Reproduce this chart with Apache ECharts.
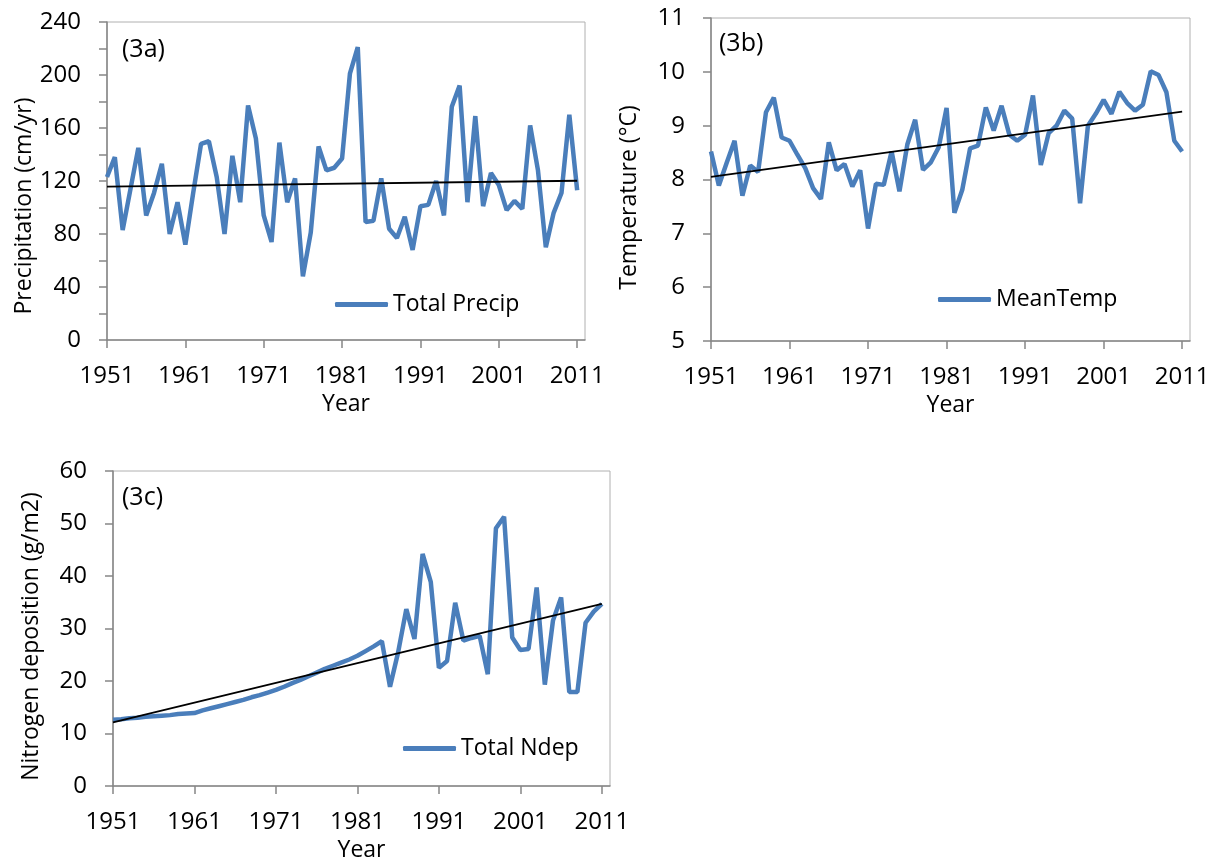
<!DOCTYPE html>
<html>
<head>
<meta charset="utf-8">
<script src="https://cdn.jsdelivr.net/npm/echarts@6/dist/echarts.min.js"></script>
<style>
  html, body { margin: 0; padding: 0; background: #fff; }
  #chart { width: 1220px; height: 863px; }
</style>
</head>
<body>
<div id="chart"></div>
<script>
// years on the x axis (the axis runs one year past the last data point)
const years = ['1951', '1952', '1953', '1954', '1955', '1956', '1957', '1958', '1959', '1960',
  '1961', '1962', '1963', '1964', '1965', '1966', '1967', '1968', '1969', '1970',
  '1971', '1972', '1973', '1974', '1975', '1976', '1977', '1978', '1979', '1980',
  '1981', '1982', '1983', '1984', '1985', '1986', '1987', '1988', '1989', '1990',
  '1991', '1992', '1993', '1994', '1995', '1996', '1997', '1998', '1999', '2000',
  '2001', '2002', '2003', '2004', '2005', '2006', '2007', '2008', '2009', '2010',
  '2011', '2012']

// (3a) total precipitation, cm/yr
const precip = [123, 138, 83, 114, 145, 94, 111, 133, 80, 104,
  72, 111, 148, 150, 123, 80, 139, 104, 177, 152,
  94, 74, 149, 104, 122, 48, 81, 146, 128, 130,
  137, 201, 221, 89, 90, 122, 84, 77, 93, 68,
  101, 102, 120, 94, 176, 192, 104, 169, 101, 126,
  117, 98, 105, 99, 162, 128, 70, 96, 111, 170,
  113]

// (3b) mean temperature, deg C
const meanTemp = [8.52, 7.89, 8.31, 8.72, 7.70, 8.26, 8.14, 9.25, 9.52, 8.78,
  8.72, 8.46, 8.21, 7.84, 7.64, 8.69, 8.17, 8.29, 7.87, 8.17,
  7.09, 7.92, 7.90, 8.52, 7.78, 8.65, 9.11, 8.18, 8.32, 8.60,
  9.33, 7.38, 7.81, 8.58, 8.63, 9.34, 8.91, 9.37, 8.83, 8.72,
  8.83, 9.56, 8.27, 8.86, 9.00, 9.28, 9.13, 7.56, 9.00, 9.22,
  9.48, 9.22, 9.63, 9.42, 9.28, 9.39, 10.01, 9.94, 9.62, 8.72,
  8.52]

// (3c) total nitrogen deposition, g/m2
const ndep = [12.6, 12.7, 12.9, 13.0, 13.2, 13.3, 13.4, 13.5, 13.7, 13.8,
  13.9, 14.4, 14.8, 15.2, 15.6, 16.0, 16.4, 16.9, 17.3, 17.8,
  18.3, 18.9, 19.6, 20.2, 20.9, 21.6, 22.3, 22.9, 23.5, 24.1,
  24.8, 25.7, 26.6, 27.6, 18.9, 25.5, 33.7, 28.0, 44.2, 38.9,
  22.5, 23.8, 34.9, 27.7, 28.2, 28.6, 21.3, 49.1, 51.3, 28.3,
  25.9, 26.1, 37.8, 19.3, 31.5, 35.9, 17.9, 17.9, 31.1, 33.2,
  34.7]

// linear trend lines, end points
const trendYears = ['1951', '2011']
const precipTrend = [115.7, 120.2]
const tempTrend = [8.05, 9.26]
const ndepTrend = [12.1, 34.7]

const FONT = 'Open Sans'
const AXIS_GREY = '#868686'
const BLUE = '#4a7ebb'

function xAxisFor (gridIndex) {
  return {
    gridIndex: gridIndex,
    type: 'category',
    data: years,
    boundaryGap: false,
    name: 'Year',
    nameLocation: 'middle',
    nameGap: 53,
    nameTextStyle: { fontFamily: FONT, fontSize: 23, color: '#000' },
    axisLine: { lineStyle: { color: AXIS_GREY, width: 1.5 } },
    axisTick: {
      length: 8,
      interval: function (i) { return i % 10 === 0 },
      lineStyle: { color: AXIS_GREY, width: 1.5 }
    },
    axisLabel: {
      interval: function (i) { return i % 10 === 0 },
      margin: 24,
      fontFamily: FONT,
      fontSize: 24,
      color: '#000'
    },
    splitLine: { show: false }
  }
}

function yAxisFor (gridIndex, name, min, max, interval, minor, shift) {
  return {
    gridIndex: gridIndex,
    type: 'value',
    min: min,
    max: max,
    interval: interval,
    name: name,
    nameLocation: 'middle',
    nameGap: 70,
    nameTextStyle: { fontFamily: FONT, fontSize: 23, color: '#000', padding: [0, shift, 0, 0] },
    axisLine: { show: true, lineStyle: { color: AXIS_GREY, width: 1.5 } },
    axisTick: { show: true, length: 8, lineStyle: { color: AXIS_GREY, width: 1.5 } },
    minorTick: { show: minor, splitNumber: 2, length: 8, lineStyle: { color: AXIS_GREY, width: 1.5 } },
    axisLabel: { margin: 26, fontFamily: FONT, fontSize: 24, color: '#000' },
    splitLine: { show: false }
  }
}

function dataSeries (name, idx, values) {
  return {
    name: name,
    type: 'line',
    xAxisIndex: idx,
    yAxisIndex: idx,
    data: values,
    symbol: 'none',
    lineStyle: { color: BLUE, width: 4.5 },
    itemStyle: { color: BLUE },
    z: 2
  }
}

function trendSeries (idx, ends) {
  return {
    type: 'line',
    xAxisIndex: idx,
    yAxisIndex: idx,
    data: trendYears.map(function (y, i) { return [y, ends[i]] }),
    symbol: 'none',
    lineStyle: { color: '#000', width: 1.8 },
    silent: true,
    z: 3
  }
}

function legendFor (name, left, top) {
  return {
    show: true,
    data: [name],
    left: left,
    top: top,
    padding: 0,
    icon: 'roundRect',
    itemWidth: 53,
    itemHeight: 5,
    itemStyle: { color: BLUE, borderWidth: 0 },
    textStyle: { fontFamily: FONT, fontSize: 23, color: '#000' }
  }
}

function panelTitle (text, left, top) {
  return {
    text: text,
    left: left,
    top: top,
    padding: 0,
    textStyle: { fontFamily: FONT, fontSize: 25, fontWeight: 'normal', color: '#000' }
  }
}

const chart = echarts.init(document.getElementById('chart'), null, { renderer: 'canvas' })

const option = {
  backgroundColor: '#fff',
  animation: false,
  title: [
    panelTitle('(3a)', 122, 37),
    panelTitle('(3b)', 719, 31),
    panelTitle('(3c)', 122, 485)
  ],
  legend: [
    legendFor('Total Precip', 335, 293),
    legendFor('MeanTemp', 938, 288),
    legendFor('Total Ndep', 403, 737)
  ],
  grid: [
    { left: 107, top: 22, width: 478, height: 318, show: true, borderColor: '#b0b0b0', borderWidth: 1 },
    { left: 711, top: 18, width: 479, height: 323, show: true, borderColor: '#b0b0b0', borderWidth: 1 },
    { left: 113, top: 471, width: 497, height: 318, show: true, borderColor: '#b0b0b0', borderWidth: 1 }
  ],
  xAxis: [xAxisFor(0), xAxisFor(1), xAxisFor(2)],
  yAxis: [
    yAxisFor(0, 'Precipitation (cm/yr)', 0, 240, 40, true, 50),
    yAxisFor(1, 'Temperature (°C)', 5, 11, 1, false, 36),
    yAxisFor(2, 'Nitrogen deposition (g/m2)', 0, 60, 10, false, 16)
  ],
  series: [
    dataSeries('Total Precip', 0, precip),
    trendSeries(0, precipTrend),
    dataSeries('MeanTemp', 1, meanTemp),
    trendSeries(1, tempTrend),
    dataSeries('Total Ndep', 2, ndep),
    trendSeries(2, ndepTrend)
  ]
}

chart.setOption(option)
</script>
</body>
</html>
